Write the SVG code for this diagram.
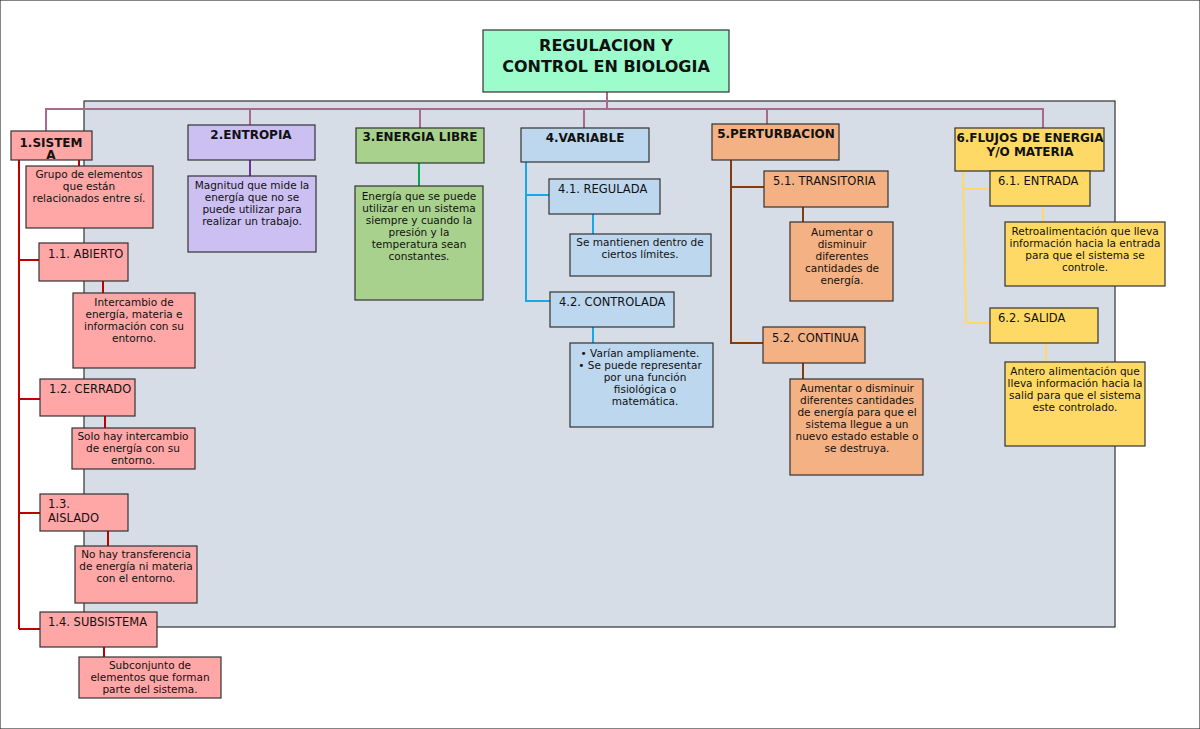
<svg xmlns="http://www.w3.org/2000/svg" width="1200" height="729" viewBox="0 0 1200 729">
<style>
text{font-family:"DejaVu Sans","Liberation Sans",sans-serif;font-size:10.5px;fill:#111}
.t{font-weight:bold;font-size:12px;text-anchor:middle}
.c{text-anchor:middle}
.h{font-size:11.5px}
rect{stroke:#333;stroke-width:1.2}
.r{fill:#ffa6a6}.p{fill:#ccc0f2}.g{fill:#a9d18e}.b{fill:#bdd7ee}.o{fill:#f4b183}.y{fill:#ffd966}
line,polyline{fill:none;stroke-width:2}
</style>
<rect x="0" y="0" width="1200" height="729" fill="#fff" stroke="none"/>
<rect x="84" y="101" width="1031" height="526" fill="#d6dde6" stroke="none"/>
<g id="connectors">
<g stroke="#a86a8a">
<line x1="607" y1="92" x2="607" y2="109"/>
<polyline points="46,131 46,109 1043,109 1043,128"/>
<line x1="250" y1="109" x2="250" y2="125"/>
<line x1="420" y1="109" x2="420" y2="128"/>
<line x1="584" y1="109" x2="584" y2="128"/>
<line x1="767" y1="109" x2="767" y2="125"/>
</g>
<g stroke="#c00000">
<line x1="19" y1="156" x2="19" y2="629"/>
<line x1="79" y1="156" x2="79" y2="166"/>
<line x1="19" y1="260" x2="39" y2="260"/>
<line x1="103" y1="281" x2="103" y2="293"/>
<line x1="19" y1="399" x2="40" y2="399"/>
<line x1="105" y1="416" x2="105" y2="428"/>
<line x1="19" y1="513" x2="40" y2="513"/>
<line x1="108" y1="531" x2="108" y2="546"/>
<line x1="19" y1="629" x2="40" y2="629"/>
<line x1="104" y1="647" x2="104" y2="657"/>
</g>
<line x1="250" y1="160" x2="250" y2="176" stroke="#7030a0"/>
<line x1="419" y1="163" x2="419" y2="186" stroke="#00b050"/>
<g stroke="#16a9e8">
<polyline points="526,162 526,301 550,301"/>
<line x1="526" y1="195" x2="549" y2="195"/>
<line x1="593" y1="214" x2="593" y2="234"/>
<line x1="593" y1="327" x2="593" y2="343"/>
</g>
<g stroke="#843c0c">
<polyline points="731,160 731,343 763,343"/>
<line x1="731" y1="187" x2="764" y2="187"/>
<line x1="803" y1="207" x2="803" y2="222"/>
<line x1="803" y1="363" x2="803" y2="379"/>
</g>
<g stroke="#ffd966">
<polyline points="963,171 966,323 990,323"/>
<line x1="964" y1="189" x2="990" y2="189"/>
<line x1="1043" y1="206" x2="1043" y2="222"/>
<line x1="1046" y1="343" x2="1046" y2="362"/>
</g>
</g>
<g id="root"><rect x="483" y="30" width="246" height="62" fill="#9dfccc"/>
<text x="606" y="51" class="t" style="font-size:16px">REGULACION Y</text><text x="606" y="72" class="t" style="font-size:16px">CONTROL EN BIOLOGIA</text></g>
<g id="n1"><rect class="r" x="11" y="131" width="81" height="29"/><text x="51" y="147" class="t">1.SISTEM</text><text x="51" y="159" class="t">A</text></g>
<g id="n1d"><rect class="r" x="26" y="166" width="127" height="62"/><text class="c" x="89"><tspan x="89" y="178">Grupo de elementos</tspan><tspan x="89" y="190">que están</tspan><tspan x="89" y="202">relacionados entre sí.</tspan></text></g>
<g id="n11"><rect class="r" x="39" y="243" width="89" height="38"/><text class="h" x="48" y="258">1.1. ABIERTO</text></g>
<g id="n11d"><rect class="r" x="73" y="293" width="122" height="75"/><text class="c"><tspan x="134" y="306">Intercambio de</tspan><tspan x="134" y="318">energía, materia e</tspan><tspan x="134" y="330">información con su</tspan><tspan x="134" y="342">entorno.</tspan></text></g>
<g id="n12"><rect class="r" x="40" y="379" width="95" height="37"/><text class="h" x="49" y="393">1.2. CERRADO</text></g>
<g id="n12d"><rect class="r" x="72" y="428" width="123" height="41"/><text class="c"><tspan x="133" y="440">Solo hay intercambio</tspan><tspan x="133" y="452">de energía con su</tspan><tspan x="133" y="464">entorno.</tspan></text></g>
<g id="n13"><rect class="r" x="40" y="494" width="88" height="37"/><text class="h"><tspan x="48" y="508">1.3.</tspan><tspan x="48" y="522">AISLADO</tspan></text></g>
<g id="n13d"><rect class="r" x="75" y="546" width="122" height="57"/><text class="c"><tspan x="136" y="558">No hay transferencia</tspan><tspan x="136" y="570">de energía ni materia</tspan><tspan x="136" y="582">con el entorno.</tspan></text></g>
<g id="n14"><rect class="r" x="40" y="612" width="117" height="35"/><text class="h" x="48" y="626">1.4. SUBSISTEMA</text></g>
<g id="n14d"><rect class="r" x="79" y="657" width="142" height="41"/><text class="c"><tspan x="150" y="669">Subconjunto de</tspan><tspan x="150" y="681">elementos que forman</tspan><tspan x="150" y="693">parte del sistema.</tspan></text></g>
<g id="n2"><rect class="p" x="188" y="125" width="127" height="35"/><text x="251" y="139" class="t">2.ENTROPIA</text></g>
<g id="n2d"><rect class="p" x="188" y="176" width="128" height="76"/><text class="c"><tspan x="252" y="189">Magnitud que mide la</tspan><tspan x="252" y="201">energía que no se</tspan><tspan x="252" y="213">puede utilizar para</tspan><tspan x="252" y="225">realizar un trabajo.</tspan></text></g>
<g id="n3"><rect class="g" x="356" y="128" width="128" height="35"/><text x="420" y="141" class="t">3.ENERGIA LIBRE</text></g>
<g id="n3d"><rect class="g" x="355" y="186" width="128" height="114"/><text class="c"><tspan x="419" y="200">Energía que se puede</tspan><tspan x="419" y="212">utilizar en un sistema</tspan><tspan x="419" y="224">siempre y cuando la</tspan><tspan x="419" y="236">presión y la</tspan><tspan x="419" y="248">temperatura sean</tspan><tspan x="419" y="260">constantes.</tspan></text></g>
<g id="n4"><rect class="b" x="521" y="128" width="128" height="34"/><text x="585" y="142" class="t">4.VARIABLE</text></g>
<g id="n41"><rect class="b" x="549" y="179" width="111" height="35"/><text class="h" x="558" y="193">4.1. REGULADA</text></g>
<g id="n41d"><rect class="b" x="570" y="234" width="141" height="42"/><text class="c"><tspan x="640" y="246">Se mantienen dentro de</tspan><tspan x="640" y="258">ciertos límites.</tspan></text></g>
<g id="n42"><rect class="b" x="550" y="292" width="124" height="35"/><text class="h" x="559" y="306">4.2. CONTROLADA</text></g>
<g id="n42d"><rect class="b" x="570" y="343" width="143" height="84"/><text class="c"><tspan x="640" y="357">• Varían ampliamente.</tspan><tspan x="640" y="369">• Se puede representar</tspan><tspan x="645" y="381">por una función</tspan><tspan x="645" y="393">fisiológica o</tspan><tspan x="645" y="405">matemática.</tspan></text></g>
<g id="n5"><rect class="o" x="712" y="124" width="127" height="36"/><text x="776" y="138" class="t">5.PERTURBACION</text></g>
<g id="n51"><rect class="o" x="764" y="171" width="124" height="36"/><text class="h" x="773" y="185">5.1. TRANSITORIA</text></g>
<g id="n51d"><rect class="o" x="790" y="222" width="103" height="79"/><text class="c"><tspan x="842" y="236">Aumentar o</tspan><tspan x="842" y="248">disminuir</tspan><tspan x="842" y="260">diferentes</tspan><tspan x="842" y="272">cantidades de</tspan><tspan x="842" y="284">energía.</tspan></text></g>
<g id="n52"><rect class="o" x="763" y="327" width="102" height="36"/><text class="h" x="772" y="342">5.2. CONTINUA</text></g>
<g id="n52d"><rect class="o" x="790" y="379" width="133" height="96"/><text class="c"><tspan x="857" y="392">Aumentar o disminuir</tspan><tspan x="857" y="404">diferentes cantidades</tspan><tspan x="857" y="416">de energía para que el</tspan><tspan x="857" y="428">sistema llegue a un</tspan><tspan x="857" y="440">nuevo estado estable o</tspan><tspan x="857" y="452">se destruya.</tspan></text></g>
<g id="n6"><rect class="y" x="955" y="128" width="149" height="43"/><text class="t"><tspan x="1030" y="142">6.FLUJOS DE ENERGIA</tspan><tspan x="1030" y="156">Y/O MATERIA</tspan></text></g>
<g id="n61"><rect class="y" x="990" y="171" width="100" height="35"/><text class="h" x="998" y="185">6.1. ENTRADA</text></g>
<g id="n61d"><rect class="y" x="1005" y="222" width="160" height="64"/><text class="c"><tspan x="1085" y="235">Retroalimentación que lleva</tspan><tspan x="1085" y="247">información hacia la entrada</tspan><tspan x="1085" y="259">para que el sistema se</tspan><tspan x="1085" y="271">controle.</tspan></text></g>
<g id="n62"><rect class="y" x="990" y="308" width="108" height="35"/><text class="h" x="998" y="322">6.2. SALIDA</text></g>
<g id="n62d"><rect class="y" x="1005" y="362" width="140" height="84"/><text class="c"><tspan x="1075" y="375">Antero alimentación que</tspan><tspan x="1075" y="387">lleva información hacia la</tspan><tspan x="1075" y="399">salid para que el sistema</tspan><tspan x="1075" y="411">este controlado.</tspan></text></g>
</svg>
